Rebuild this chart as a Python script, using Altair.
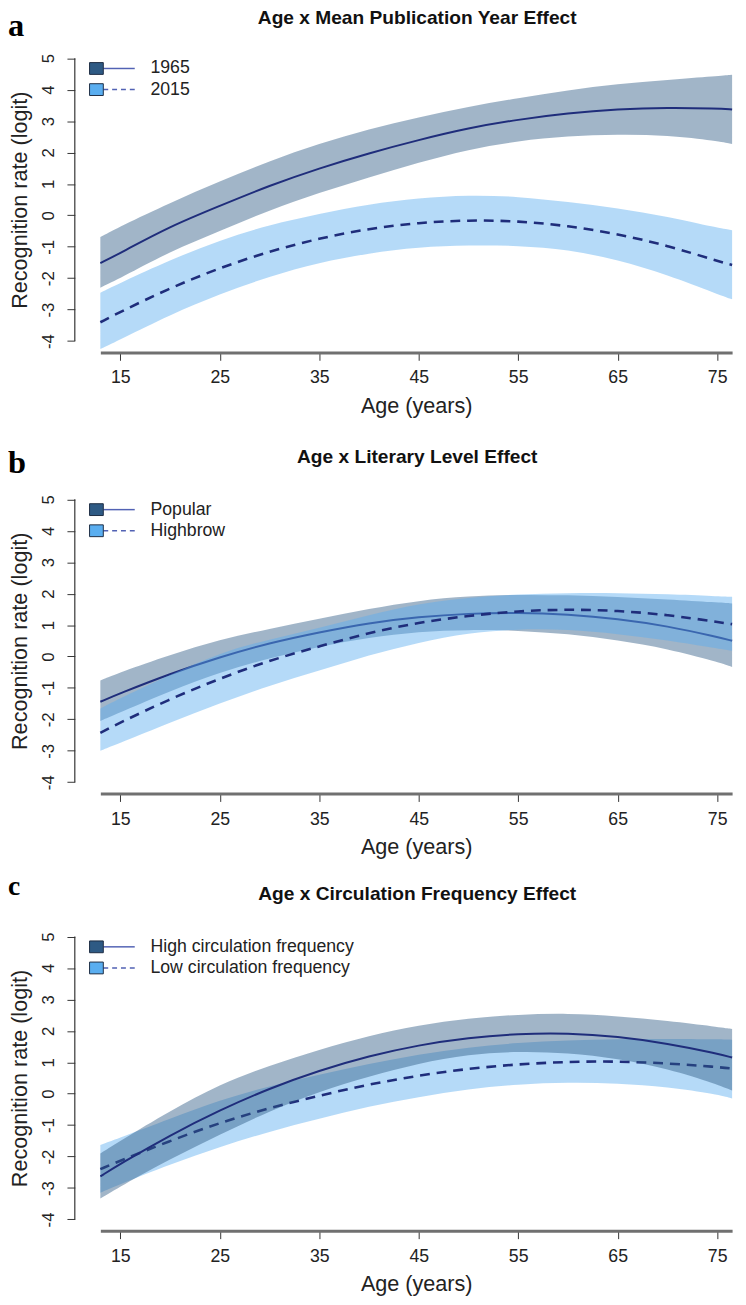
import altair as alt
import pandas as pd

# ---------------- data ----------------
AGES = [13, 15, 20, 25, 30, 35, 40, 45, 50, 55, 60, 65, 70, 75, 76.5]

# Panel a: Age x Mean Publication Year
A1_FIT = [-1.52, -1.20, -0.35, 0.30, 0.95, 1.50, 1.98, 2.40, 2.78, 3.05, 3.25, 3.38, 3.43, 3.40, 3.37]
A1_HI = [-0.69, -0.35, 0.40, 1.08, 1.73, 2.28, 2.75, 3.12, 3.46, 3.73, 3.98, 4.18, 4.31, 4.43, 4.47]
A1_LO = [-2.30, -2.00, -1.15, -0.50, 0.17, 0.72, 1.21, 1.68, 2.10, 2.37, 2.52, 2.58, 2.55, 2.37, 2.27]
A2_FIT = [-3.40, -3.07, -2.31, -1.67, -1.14, -0.73, -0.42, -0.23, -0.15, -0.18, -0.33, -0.59, -0.96, -1.45, -1.58]
A2_HI = [-2.46, -2.15, -1.42, -0.79, -0.30, 0.05, 0.36, 0.55, 0.65, 0.60, 0.43, 0.23, -0.03, -0.40, -0.47]
A2_LO = [-4.25, -3.95, -3.16, -2.50, -1.94, -1.50, -1.20, -1.01, -0.95, -0.96, -1.09, -1.41, -1.89, -2.50, -2.67]

# Panel b: Age x Literary Level
B1_FIT = [-1.44, -1.17, -0.55, -0.02, 0.43, 0.77, 1.07, 1.26, 1.37, 1.40, 1.34, 1.20, 0.97, 0.62, 0.50]
B1_HI = [-0.76, -0.50, 0.05, 0.54, 0.88, 1.20, 1.52, 1.78, 1.92, 1.97, 1.95, 1.90, 1.82, 1.72, 1.69]
B1_LO = [-2.05, -1.78, -1.10, -0.50, -0.05, 0.32, 0.60, 0.80, 0.85, 0.83, 0.72, 0.52, 0.25, -0.17, -0.33]
B2_FIT = [-2.43, -2.10, -1.35, -0.70, -0.12, 0.32, 0.76, 1.08, 1.30, 1.45, 1.50, 1.46, 1.33, 1.10, 1.03]
B2_HI = [-1.65, -1.33, -0.58, 0.12, 0.55, 0.90, 1.32, 1.68, 1.88, 1.98, 2.02, 2.02, 1.98, 1.92, 1.90]
B2_LO = [-3.00, -2.75, -2.10, -1.49, -0.92, -0.45, 0.05, 0.45, 0.75, 0.88, 0.86, 0.72, 0.52, 0.25, 0.18]

# Panel c: Age x Circulation Frequency
C1_FIT = [-2.63, -2.23, -1.32, -0.52, 0.17, 0.74, 1.20, 1.55, 1.78, 1.91, 1.93, 1.82, 1.60, 1.28, 1.15]
C1_HI = [-1.90, -1.50, -0.55, 0.30, 0.90, 1.40, 1.85, 2.18, 2.40, 2.52, 2.56, 2.47, 2.32, 2.13, 2.06]
C1_LO = [-3.33, -2.95, -2.08, -1.30, -0.55, 0.07, 0.55, 0.97, 1.25, 1.35, 1.30, 1.12, 0.80, 0.30, 0.10]
C2_FIT = [-2.40, -2.13, -1.50, -0.92, -0.45, -0.06, 0.30, 0.58, 0.80, 0.94, 1.02, 1.03, 0.97, 0.85, 0.80]
C2_HI = [-1.63, -1.40, -0.80, -0.20, 0.25, 0.60, 0.95, 1.25, 1.48, 1.62, 1.70, 1.74, 1.74, 1.73, 1.72]
C2_LO = [-3.15, -2.88, -2.25, -1.69, -1.20, -0.80, -0.40, -0.10, 0.15, 0.30, 0.36, 0.33, 0.22, -0.02, -0.15]

TITLES = ["Age x Mean Publication Year Effect",
          "Age x Literary Level Effect",
          "Age x Circulation Frequency Effect"]
LETTERS = ["a", "b", "c"]
LEGENDS = [["1965", "2015"],
           ["Popular", "Highbrow"],
           ["High circulation frequency", "Low circulation frequency"]]
X_TICKS = [15, 25, 35, 45, 55, 65, 75]
Y_TICKS = [-4, -3, -2, -1, 0, 1, 2, 3, 4, 5]

# ---------------- styling ----------------
W, H = 643, 311
X_DOMAIN = [13, 76.5]
Y_DOMAIN = [-4.36, 5.36]
DARK = "#2e5a84"
LIGHT = "#5aaef0"
LINE = "#1f2d7b"
LEG_LINE = "#5262b4"
FONT = "Liberation Sans"

xs = alt.Scale(domain=X_DOMAIN, nice=False, zero=False)
ys = alt.Scale(domain=Y_DOMAIN, nice=False, zero=False)
xaxis = alt.Axis(title="Age (years)", values=X_TICKS, grid=False,
                 domainColor="#707070", domainWidth=3, tickColor="#333333",
                 tickSize=8, tickWidth=1, labelFontSize=18, labelPadding=9,
                 labelFlush=False, titleFontSize=22, titlePadding=9,
                 titleFontWeight="normal", labelColor="#222222", titleColor="#222222")
yaxis = alt.Axis(title="Recognition rate (logit)", values=Y_TICKS, grid=False,
                 domain=False, offset=26, tickColor="#333333", tickSize=8,
                 tickWidth=1, labelAngle=-90, labelAlign="center",
                 labelBaseline="bottom", labelPadding=10, labelFontSize=17,
                 labelExpr="'' + datum.value", labelFlush=False,
                 titleFontSize=22, titlePadding=8, titleFontWeight="normal",
                 labelColor="#222222", titleColor="#222222")


def frame(fit, lo, hi):
    return pd.DataFrame({"age": AGES, "fit": fit, "lo": lo, "hi": hi})


def band(df, color):
    return alt.Chart(df).mark_area(color=color, opacity=0.45, interpolate="basis").encode(
        x=alt.X("age:Q", scale=xs, axis=xaxis),
        y=alt.Y("lo:Q", scale=ys, axis=yaxis),
        y2="hi:Q",
    )


def line(df, dashed):
    kw = dict(color=LINE, strokeWidth=2.0, interpolate="basis")
    if dashed:
        kw.update(strokeDash=[10, 7], strokeWidth=2.6)
    return alt.Chart(df).mark_line(**kw).encode(
        x=alt.X("age:Q", scale=xs, axis=xaxis),
        y=alt.Y("fit:Q", scale=ys, axis=yaxis),
    )


def panel(i, s1, s2, order, title_y, letter_y, letter_size):
    d1 = frame(*s1)
    d2 = frame(*s2)
    layers_map = {
        "b1": band(d1, DARK), "l1": line(d1, False),
        "b2": band(d2, LIGHT), "l2": line(d2, True),
    }
    layers = [layers_map[k] for k in order]

    yrule = alt.Chart(pd.DataFrame({"y0": [Y_TICKS[0]], "y1": [Y_TICKS[-1]]})).mark_rule(
        color="#333333", strokeWidth=1.2).encode(
        x=alt.value(-26),
        y=alt.Y("y0:Q", scale=ys, axis=yaxis), y2="y1:Q")

    leg = LEGENDS[i]
    rows = [22, 43.5]
    legend_layers = []
    for r, (lab, fill, dash) in enumerate([(leg[0], DARK, None), (leg[1], LIGHT, [5, 4])]):
        ld = pd.DataFrame({"label": [lab]})
        rule_kw = dict(color=LEG_LINE, strokeWidth=1.5)
        if dash:
            rule_kw["strokeDash"] = dash
        legend_layers.append(alt.Chart(ld).mark_rule(**rule_kw).encode(
            x=alt.value(3), x2=alt.value(35), y=alt.value(rows[r])))
        legend_layers.append(alt.Chart(ld).mark_rect(
            fill=fill, stroke="#1d2c42", strokeWidth=1).encode(
            x=alt.value(-11), x2=alt.value(3),
            y=alt.value(rows[r] - 6), y2=alt.value(rows[r] + 6)))
        legend_layers.append(alt.Chart(ld).mark_text(
            align="left", baseline="middle", fontSize=18, font=FONT,
            color="#222222").encode(
            text="label:N", x=alt.value(51), y=alt.value(rows[r])))

    title = alt.Chart(pd.DataFrame({"t": [TITLES[i]]})).mark_text(
        align="center", baseline="middle", fontSize=19.5, fontWeight="bold",
        font=FONT, color="#111111").encode(
        text="t:N", x=alt.value(W / 2 + 1), y=alt.value(title_y))
    letter = alt.Chart(pd.DataFrame({"t": [LETTERS[i]]})).mark_text(
        align="left", baseline="alphabetic", fontSize=letter_size, fontWeight="bold",
        font="Liberation Serif", color="#000000").encode(
        text="t:N", x=alt.value(-94), y=alt.value(letter_y))

    return alt.layer(*layers, yrule, *legend_layers, title, letter).properties(
        width=W, height=H)


pa = panel(0, (A1_FIT, A1_LO, A1_HI), (A2_FIT, A2_LO, A2_HI),
           ["b1", "l1", "b2", "l2"], -29, -11, 33)
pb = panel(1, (B1_FIT, B1_LO, B1_HI), (B2_FIT, B2_LO, B2_HI),
           ["b1", "l1", "b2", "l2"], -31.5, -15.5, 33)
pc = panel(2, (C1_FIT, C1_LO, C1_HI), (C2_FIT, C2_LO, C2_HI),
           ["b2", "l2", "b1", "l1"], -31.5, -30.5, 28)

chart = alt.vconcat(alt.vconcat(pa, pb, spacing=31), pc, spacing=16).properties(
    padding={"left": 0, "top": -11, "right": 0, "bottom": 0}
).configure(font=FONT).configure_view(stroke=None)

chart.save("out.html", embed_options={"renderer": "svg", "actions": False})
